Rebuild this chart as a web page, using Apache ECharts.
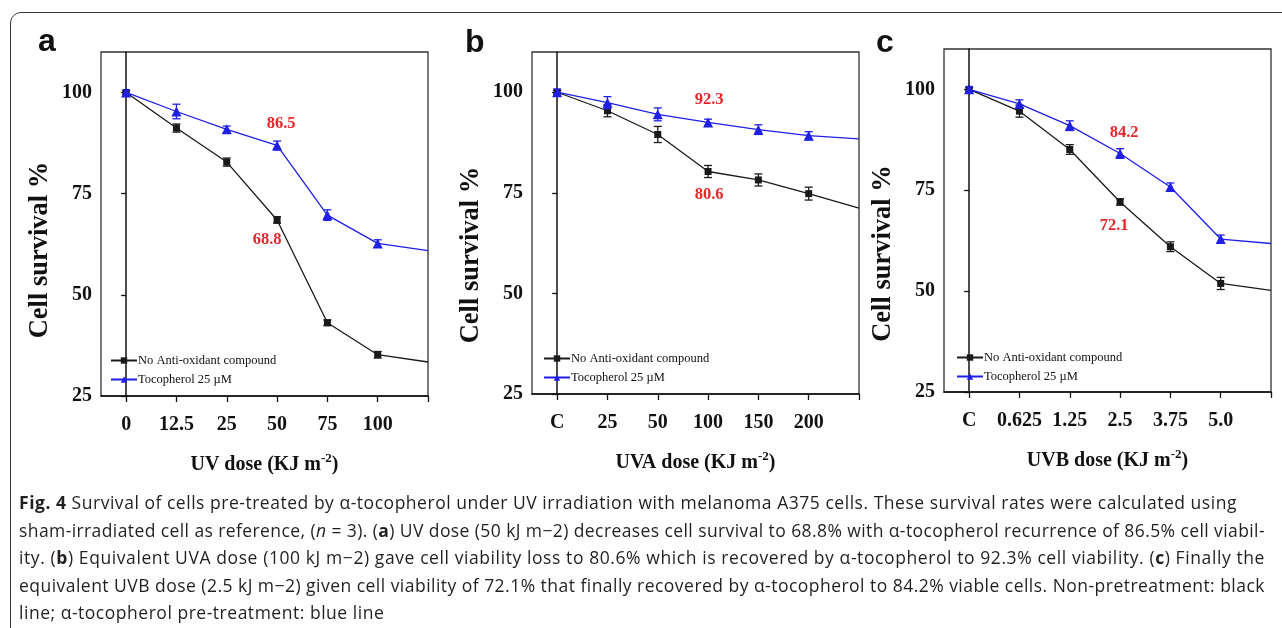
<!DOCTYPE html>
<html><head><meta charset="utf-8">
<script src="https://cdn.jsdelivr.net/npm/echarts@6.0.0/dist/echarts.min.js"></script>
<style>
html,body{margin:0;padding:0;background:#fff;}
#wrap{position:relative;width:1282px;height:628px;overflow:hidden;background:#fff;}
#chart{position:absolute;left:0;top:0;width:1282px;height:628px;}
#frame{position:absolute;left:10px;top:12px;width:1400px;height:800px;border:1.5px solid #3a3a3a;border-radius:11px;box-sizing:border-box;pointer-events:none;}
#caption{position:absolute;left:19px;top:489px;width:1246px;font-family:'Open Sans',sans-serif;font-size:17.5px;line-height:27.5px;color:#231f20;}
#caption div{white-space:nowrap;}
</style></head>
<body><div id="wrap"><div id="chart"></div><div id="frame"></div>
<div id="caption">
<div class="cl" data-w="1218"><b>Fig. 4</b> Survival of cells pre-treated by α-tocopherol under UV irradiation with melanoma A375 cells. These survival rates were calculated using</div>
<div class="cl" data-w="1246">sham-irradiated cell as reference, (<i>n</i> = 3). (<b>a</b>) UV dose (50 kJ m−2) decreases cell survival to 68.8% with α-tocopherol recurrence of 86.5% cell viabil-</div>
<div class="cl" data-w="1246">ity. (<b>b</b>) Equivalent UVA dose (100 kJ m−2) gave cell viability loss to 80.6% which is recovered by α-tocopherol to 92.3% cell viability. (<b>c</b>) Finally the</div>
<div class="cl" data-w="1246">equivalent UVB dose (2.5 kJ m−2) given cell viability of 72.1% that finally recovered by α-tocopherol to 84.2% viable cells. Non-pretreatment: black</div>
<div class="cl" data-w="0">line; α-tocopherol pre-treatment: blue line</div>
</div>
</div>
<script>
// ---- data ----
const NAME_CTRL = 'No Anti-oxidant compound';
const NAME_TOCO = 'Tocopherol 25 µM';
const panelLetters = ['a', 'b', 'c'];
const xTitlesMain = ['UV dose (KJ m', 'UVA dose (KJ m', 'UVB dose (KJ m'];
const yTitle = 'Cell survival %';
const yTicks = [25, 50, 75, 100];

const catsA = ['0', '12.5', '25', '50', '75', '100'];
const ctrlA = [100, 91.2, 82.8, 68.5, 43.1, 35.2, 33.4];
const tocoA = [100, 95.3, 90.9, 86.9, 69.7, 62.7, 60.9];
const ctrlErrA = [0.4, 1.0, 1.0, 0.8, 0.7, 0.8];
const tocoErrA = [0.5, 1.8, 0.8, 1.1, 1.3, 0.9];
const annotA = ['68.8', '86.5'];

const catsB = ['C', '25', '50', '100', '150', '200'];
const ctrlB = [100, 95.4, 89.5, 80.3, 78.2, 74.8, 71.2];
const tocoB = [100, 97.4, 94.5, 92.5, 90.7, 89.2, 88.4];
const ctrlErrB = [0.4, 1.5, 2.0, 1.5, 1.5, 1.6];
const tocoErrB = [0.8, 1.5, 1.6, 0.8, 1.2, 1.0];
const annotB = ['80.6', '92.3'];

const catsC = ['C', '0.625', '1.25', '2.5', '3.75', '5.0'];
const ctrlC = [100, 94.6, 85.1, 72.1, 61.0, 51.9, 50.2];
const tocoC = [100, 96.4, 91.0, 84.1, 75.8, 62.9, 61.8];
const ctrlErrC = [0.4, 1.5, 1.2, 0.8, 1.2, 1.5];
const tocoErrC = [0.6, 1.0, 1.2, 1.2, 1.0, 1.0];
const annotC = ['72.1', '84.2'];

const annotIndex = [3, 3, 3];

// ---- layout / style ----
const grids = [
  {left: 101, top: 52, width: 327, height: 344},
  {left: 532, top: 52, width: 327, height: 342},
  {left: 944, top: 49, width: 327, height: 343}
];
const letterPos = [[38, 26], [465, 27], [876, 27]];
const legendPos = [[110, 354], [543, 352], [956, 351]];
const yNameShift = [52, 64, 66];
// annotation label offsets [ctrl, toco] relative to the point
const annotOffsets = [
  [[-10, 20], [4, -22]],
  [[1, 23], [1, -23]],
  [[-6, 24], [4, -21]]
];
const BLACK = '#1a1a1a';
const BLUE = '#1f1fe6';
const RED = '#e8252b';
const SERIF = "'Liberation Serif','Times New Roman',serif";

const panels = [
  {cats: catsA, ctrl: ctrlA, toco: tocoA, ctrlErr: ctrlErrA, tocoErr: tocoErrA, annot: annotA},
  {cats: catsB, ctrl: ctrlB, toco: tocoB, ctrlErr: ctrlErrB, tocoErr: tocoErrB, annot: annotB},
  {cats: catsC, ctrl: ctrlC, toco: tocoC, ctrlErr: ctrlErrC, tocoErr: tocoErrC, annot: annotC}
];

const option = {
  animation: false,
  backgroundColor: '#fff',
  title: [], grid: [], xAxis: [], yAxis: [], legend: [], series: []
};

function errSeries(i, vals, errs, color) {
  return {
    type: 'custom', xAxisIndex: i, yAxisIndex: i, silent: true, z: 4,
    encode: {x: 0, y: 1},
    data: errs.map((e, k) => [k, vals[k], e]),
    renderItem: function (params, api) {
      const x = api.value(0), y = api.value(1), e = api.value(2);
      const hi = api.coord([x, y + e]);
      const lo = api.coord([x, y - e]);
      const w = 4;
      const st = {stroke: color, lineWidth: 1.3};
      return {type: 'group', children: [
        {type: 'line', shape: {x1: hi[0], y1: hi[1], x2: lo[0], y2: lo[1]}, style: st},
        {type: 'line', shape: {x1: hi[0] - w, y1: hi[1], x2: hi[0] + w, y2: hi[1]}, style: st},
        {type: 'line', shape: {x1: lo[0] - w, y1: lo[1], x2: lo[0] + w, y2: lo[1]}, style: st}
      ]};
    }
  };
}

function lineData(vals, ncat, ai, text, off) {
  return vals.map((v, k) => {
    const d = {value: [k, v]};
    if (k >= ncat) d.symbol = 'none';
    if (k === ai) {
      d.label = {show: true, position: 'inside', formatter: text, offset: off,
        color: RED, fontFamily: SERIF, fontSize: 16.5, fontWeight: 'bold'};
    }
    return d;
  });
}

panels.forEach((p, i) => {
  const g = grids[i];
  option.grid.push(Object.assign({show: true, borderColor: '#333', borderWidth: 1.3, backgroundColor: 'transparent'}, g));
  option.title.push({text: panelLetters[i], left: letterPos[i][0], top: letterPos[i][1], padding: 0,
    textStyle: {fontFamily: "'Liberation Sans',Arial,sans-serif", fontWeight: 'bold', fontSize: 32, color: '#111'}});
  const n = p.cats.length;
  option.xAxis.push({
    type: 'value', gridIndex: i, min: -0.5, max: n,
    splitLine: {show: false},
    axisLine: {show: true, lineStyle: {color: '#111', width: 1.5}},
    axisTick: {show: true, inside: false, length: 6, lineStyle: {color: '#111', width: 1.3},
      customValues: p.cats.map((c, k) => k).concat([n])},
    axisLabel: {show: true, margin: 19, customValues: p.cats.map((c, k) => k),
      formatter: v => p.cats[Math.round(v)] || '',
      fontFamily: SERIF, fontWeight: 'bold', fontSize: 20, color: '#111'},
    name: xTitlesMain[i] + '{sup|-2})',
    nameLocation: 'middle', nameGap: 56,
    nameTextStyle: {fontFamily: SERIF, fontWeight: 'bold', fontSize: 20, color: '#111', lineHeight: 26,
      rich: {sup: {fontFamily: SERIF, fontWeight: 'bold', fontSize: 13, color: '#111', lineHeight: 12, verticalAlign: 'top'}}}
  });
  option.yAxis.push({
    type: 'value', gridIndex: i, min: 25, max: 110,
    splitLine: {show: false},
    axisLine: {show: true, lineStyle: {color: '#111', width: 1.5}},
    axisTick: {show: true, inside: false, length: 5, lineStyle: {color: '#111', width: 1.3}, customValues: yTicks},
    axisLabel: {show: true, margin: 9, customValues: yTicks,
      fontFamily: SERIF, fontWeight: 'bold', fontSize: 20, color: '#111'},
    name: yTitle, nameLocation: 'middle', nameGap: 47, nameRotate: 90,
    nameTextStyle: {fontFamily: SERIF, fontWeight: 'bold', fontSize: 26.5, color: '#111',
      padding: [0, yNameShift[i], 0, 0]}
  });
  option.legend.push({
    orient: 'vertical', left: legendPos[i][0], top: legendPos[i][1], padding: 0,
    itemWidth: 26, itemHeight: 8, itemGap: 6,
    data: [NAME_CTRL, NAME_TOCO],
    textStyle: {fontFamily: SERIF, fontSize: 12.5, color: '#111', padding: [0, 0, 0, -4]}
  });
  option.series.push({
    type: 'line', name: NAME_CTRL, xAxisIndex: i, yAxisIndex: i, z: 3,
    symbol: 'rect', symbolSize: 7,
    lineStyle: {color: BLACK, width: 1.3}, itemStyle: {color: BLACK},
    data: lineData(p.ctrl, n, annotIndex[i], p.annot[0], annotOffsets[i][0])
  });
  option.series.push({
    type: 'line', name: NAME_TOCO, xAxisIndex: i, yAxisIndex: i, z: 5,
    symbol: 'triangle', symbolSize: 10,
    lineStyle: {color: BLUE, width: 1.3}, itemStyle: {color: BLUE},
    data: lineData(p.toco, n, annotIndex[i], p.annot[1], annotOffsets[i][1])
  });
  option.series.push(errSeries(i, p.ctrl, p.ctrlErr, BLACK));
  option.series.push(errSeries(i, p.toco, p.tocoErr, BLUE));
});

const chart = echarts.init(document.getElementById('chart'), null, {renderer: 'canvas'});
chart.setOption(option);

// caption: spread each line to the reference's width with letter spacing
(function () {
  const lines = Array.from(document.querySelectorAll('#caption .cl'));
  let firstLs = 0;
  lines.forEach((el, idx) => {
    const target = parseFloat(el.getAttribute('data-w'));
    if (!target) { el.style.letterSpacing = firstLs.toFixed(3) + 'px'; return; }
    const range = document.createRange();
    range.selectNodeContents(el);
    const w = range.getBoundingClientRect().width;
    const ls = (target - w) / el.textContent.length;
    el.style.letterSpacing = ls.toFixed(3) + 'px';
    if (idx === 0) firstLs = ls;
  });
})();
</script>
</body></html>
